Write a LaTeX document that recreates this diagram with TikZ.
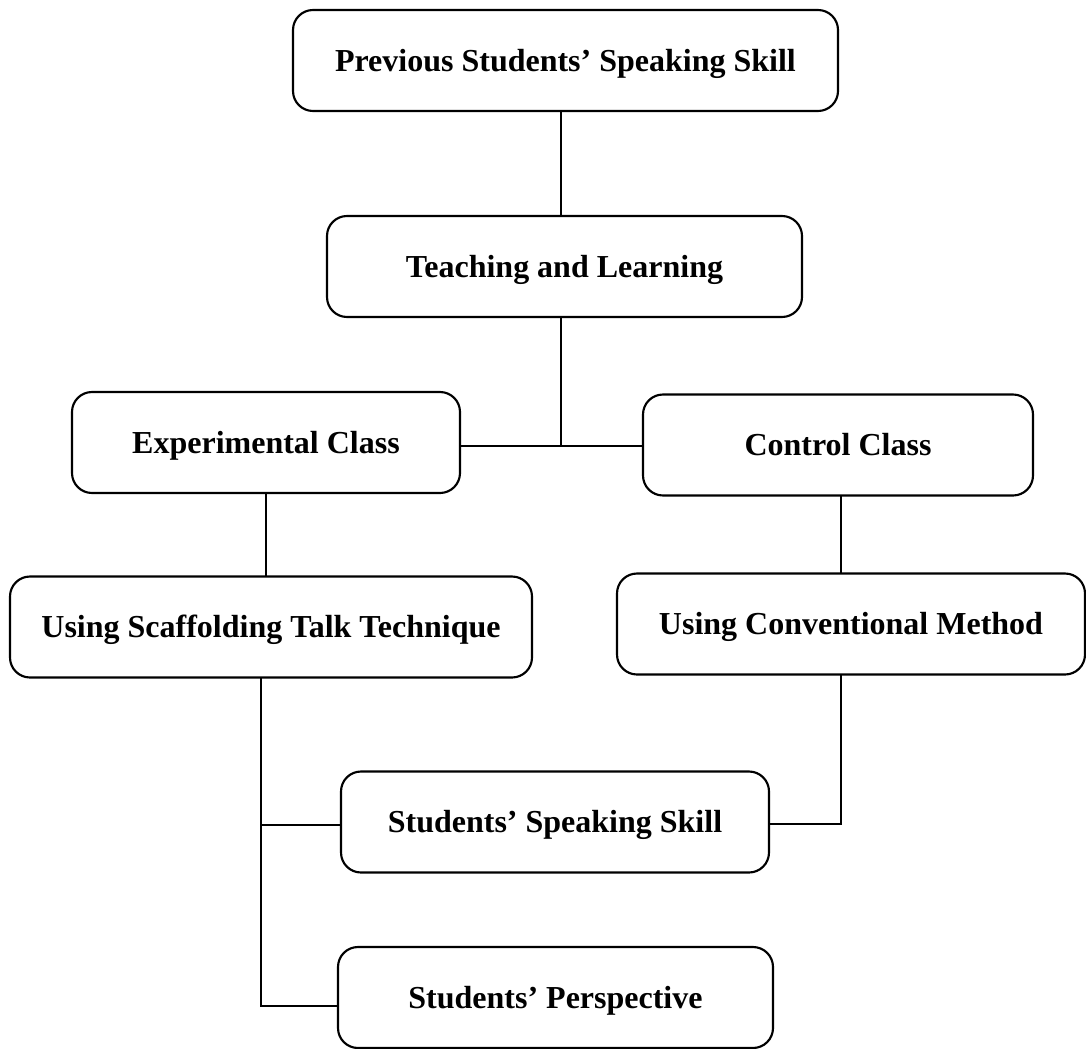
\documentclass[tikz,border=0pt]{standalone}
\usepackage{fontspec}
\setmainfont{Liberation Serif}

\begin{document}
\begin{tikzpicture}[x=0.75pt, y=-0.75pt,
        box/.style={draw, line width=1.6pt, rounded corners=15pt, inner sep=0pt, outer sep=0pt,
            minimum height=75.75pt, text height=15.9pt, text depth=0pt, align=center,
            font=\fontsize{24}{28}\selectfont\bfseries},
        link/.style={line width=1.6pt},
        thinlink/.style={line width=0.8pt}]
        % --- CANVAS ---
        \useasboundingbox (0,0) rectangle (1086,1049);

        % --- BOXES ---
        \node[box, minimum width=408.75pt] (prev)    at (565.5, 60.5)  {Previous Students’ Speaking Skill};
        \node[box, minimum width=356.25pt] (teach)   at (564.5, 266.5) {Teaching and Learning};
        \node[box, minimum width=291pt]    (exper)   at (266, 442.5)   {Experimental Class};
        \node[box, minimum width=292.5pt]  (control) at (838, 445)     {Control Class};
        \node[box, minimum width=391.5pt]  (scaff)   at (271, 627)     {Using Scaffolding Talk Technique};
        \node[box, minimum width=351pt]    (conv)    at (851, 624)     {Using Conventional Method};
        \node[box, minimum width=321pt]    (skill)   at (555, 822)     {Students’ Speaking Skill};
        \node[box, minimum width=326.25pt] (persp)   at (555.5, 997.5) {Students’ Perspective};

        % --- JUNCTIONS ---
        \coordinate (jn) at (561, 446);   % split under teaching box
        \coordinate (lt) at (261, 825);   % left trunk
        \coordinate (rt) at (841, 824);   % right trunk
        \coordinate (pb) at (261, 1006);  % end of thin line

        % --- CONNECTORS ---
        \draw[link] (prev.south -| jn) -- (teach.north -| jn);
        \draw[link] (teach.south -| jn) -- (jn);
        \draw[link] (exper.east |- jn) -- (control.west |- jn);
        \draw[link] (exper.south) -- (scaff.north -| exper.south);
        \draw[link] (control.south -| rt) -- (conv.north -| rt);

        % Outcomes
        \draw[link] (scaff.south -| lt) -- (lt) -- (skill.west |- lt);
        \draw[link] (conv.south -| rt) -- (rt) -- (skill.east |- rt);
        \draw[thinlink] (lt) -- (pb) -- (persp.west |- pb);

    \end{tikzpicture}
\end{document}
